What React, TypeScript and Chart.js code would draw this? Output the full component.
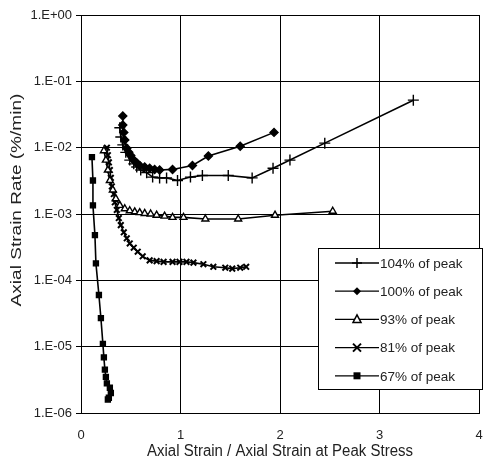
import React, { useEffect, useRef } from 'react';
import { Chart, registerables } from 'chart.js';
Chart.register(...registerables);

const seriesLabels = ['104% of peak', '100% of peak', '93% of peak', '81% of peak', '67% of peak'];
const pointStyles = ['cross', 'rectRot', 'triangle', 'crossRot', 'rect'];

const x104 = [0.39, 0.4, 0.42, 0.45, 0.49, 0.53, 0.56, 0.6, 0.66, 0.72, 0.79, 0.86, 0.97, 1.1, 1.22, 1.48, 1.72, 1.93, 2.1, 2.45, 3.34];
const y104 = [2.0e-2, 1.45e-2, 1.1e-2, 8.5e-3, 6.5e-3, 5.7e-3, 5.1e-3, 4.6e-3, 4.2e-3, 3.6e-3, 3.5e-3, 3.5e-3, 3.2e-3, 3.6e-3, 3.8e-3, 3.8e-3, 3.5e-3, 4.9e-3, 6.5e-3, 1.17e-2, 5.2e-2];

const x100 = [0.42, 0.42, 0.43, 0.44, 0.46, 0.48, 0.5, 0.53, 0.56, 0.59, 0.64, 0.69, 0.74, 0.79, 0.92, 1.12, 1.28, 1.6, 1.94];
const y100 = [3.0e-2, 2.2e-2, 1.7e-2, 1.3e-2, 9.8e-3, 8.5e-3, 7.6e-3, 6.5e-3, 5.9e-3, 5.4e-3, 5.1e-3, 4.9e-3, 4.7e-3, 4.6e-3, 4.7e-3, 5.4e-3, 7.5e-3, 1.05e-2, 1.7e-2];

const x93 = [0.23, 0.25, 0.27, 0.29, 0.32, 0.35, 0.39, 0.44, 0.49, 0.54, 0.59, 0.64, 0.7, 0.76, 0.84, 0.92, 1.03, 1.25, 1.58, 1.95, 2.53];
const y93 = [9.0e-3, 6.5e-3, 4.6e-3, 3.2e-3, 2.3e-3, 1.7e-3, 1.35e-3, 1.2e-3, 1.12e-3, 1.08e-3, 1.05e-3, 1.02e-3, 1.0e-3, 9.6e-4, 9.3e-4, 8.9e-4, 8.9e-4, 8.4e-4, 8.4e-4, 9.6e-4, 1.1e-3];

const x81 = [0.26, 0.27, 0.28, 0.29, 0.3, 0.31, 0.33, 0.34, 0.36, 0.38, 0.4, 0.43, 0.46, 0.49, 0.53, 0.57, 0.62, 0.69, 0.76, 0.83, 0.92, 0.99, 1.06, 1.13, 1.23, 1.33, 1.45, 1.52, 1.6, 1.66];
const y81 = [1.0e-2, 7.7e-3, 6.0e-3, 4.6e-3, 3.5e-3, 2.6e-3, 2.0e-3, 1.5e-3, 1.15e-3, 8.7e-4, 6.8e-4, 5.3e-4, 4.3e-4, 3.6e-4, 3.1e-4, 2.7e-4, 2.3e-4, 2.0e-4, 1.95e-4, 1.9e-4, 1.9e-4, 1.9e-4, 1.9e-4, 1.85e-4, 1.75e-4, 1.6e-4, 1.55e-4, 1.5e-4, 1.55e-4, 1.6e-4];

const x67 = [0.11, 0.12, 0.12, 0.14, 0.15, 0.18, 0.2, 0.22, 0.23, 0.24, 0.25, 0.26, 0.29, 0.3, 0.28, 0.27];
const y67 = [7.2e-3, 3.2e-3, 1.35e-3, 4.8e-4, 1.8e-4, 6e-5, 2.7e-5, 1.1e-5, 6.9e-6, 4.5e-6, 3.5e-6, 2.8e-6, 2.4e-6, 2.0e-6, 1.7e-6, 1.6e-6];

const yTickValues = [1, 1e-1, 1e-2, 1e-3, 1e-4, 1e-5, 1e-6];
const xTitle = 'Axial Strain / Axial Strain at Peak Stress';
const yTitle = 'Axial Strain Rate (%/min)';

const FONT = "'Liberation Sans', Arial, sans-serif";

function fmt(v: number) {
  const e = Math.round(Math.log10(v));
  const a = Math.abs(e);
  return '1.E' + (e >= 0 ? '+' : '-') + (a < 10 ? '0' + a : '' + a);
}

function drawMarker(ctx: CanvasRenderingContext2D, style: string, x: number, y: number) {
  ctx.save();
  ctx.strokeStyle = '#000';
  ctx.fillStyle = '#000';
  ctx.lineWidth = 1.5;
  ctx.beginPath();
  if (style === 'cross') {
    ctx.moveTo(x - 5, y); ctx.lineTo(x + 5, y);
    ctx.moveTo(x, y - 5); ctx.lineTo(x, y + 5);
    ctx.stroke();
  } else if (style === 'rectRot') {
    ctx.moveTo(x, y - 4); ctx.lineTo(x + 4, y); ctx.lineTo(x, y + 4); ctx.lineTo(x - 4, y); ctx.closePath();
    ctx.fill();
  } else if (style === 'triangle') {
    ctx.fillStyle = '#fff';
    ctx.moveTo(x, y - 4.5); ctx.lineTo(x + 4, y + 3); ctx.lineTo(x - 4, y + 3); ctx.closePath();
    ctx.fill(); ctx.stroke();
  } else if (style === 'crossRot') {
    ctx.lineWidth = 2;
    ctx.moveTo(x - 4, y - 4); ctx.lineTo(x + 4, y + 4);
    ctx.moveTo(x + 4, y - 4); ctx.lineTo(x - 4, y + 4);
    ctx.stroke();
  } else {
    ctx.rect(x - 3.5, y - 3.5, 7, 7);
    ctx.fill();
  }
  ctx.restore();
}

const overlayPlugin = {
  id: 'overlay',
  afterDraw(chart: any) {
    const ctx = chart.ctx as CanvasRenderingContext2D;
    const area = chart.chartArea;
    ctx.save();
    ctx.fillStyle = '#222';
    ctx.font = '15px ' + FONT;
    ctx.textAlign = 'center';
    ctx.textBaseline = 'middle';
    ctx.save();
    ctx.translate((area.left + area.right) / 2, 451);
    ctx.scale(1, 1.15);
    ctx.fillText(xTitle, 0, 0);
    ctx.restore();
    ctx.save();
    ctx.translate(17, 200);
    ctx.rotate(-Math.PI / 2);
    ctx.scale(1.27, 1);
    ctx.fillText(yTitle, 0, 0);
    ctx.restore();

    // legend box
    const left = 318, top = 248, w = 165, h = 142;
    ctx.fillStyle = '#fff';
    ctx.fillRect(left, top, w, h);
    ctx.strokeStyle = '#000';
    ctx.lineWidth = 1;
    ctx.strokeRect(left + 0.5, top + 0.5, w - 1, h - 1);
    ctx.font = '13.5px ' + FONT;
    ctx.textBaseline = 'middle';
    ctx.textAlign = 'left';
    seriesLabels.forEach((lab, i) => {
      const y = 263 + i * 28.2;
      ctx.strokeStyle = '#000';
      ctx.lineWidth = 1.3;
      ctx.beginPath();
      ctx.moveTo(335, y); ctx.lineTo(379, y);
      ctx.stroke();
      drawMarker(ctx, pointStyles[i], 357, y);
      ctx.fillStyle = '#222';
      ctx.fillText(lab, 380, y + 1);
    });
    ctx.restore();
  },
};

function mk(xs: number[], ys: number[]) {
  return xs.map((x, i) => ({ x, y: ys[i] }));
}

export default function App() {
  const ref = useRef<HTMLCanvasElement>(null);
  useEffect(() => {
    document.body.style.margin = '0';
    const xsAll = [x104, x100, x93, x81, x67];
    const ysAll = [y104, y100, y93, y81, y67];
    const datasets = seriesLabels.map((lab, i) => {
      const st = pointStyles[i];
      return {
        label: lab,
        data: mk(xsAll[i], ysAll[i]),
        borderColor: '#000',
        borderWidth: 1.6,
        backgroundColor: st === 'triangle' ? '#fff' : '#000',
        pointBorderColor: '#000',
        pointBackgroundColor: st === 'triangle' ? '#fff' : '#000',
        pointStyle: st,
        pointRadius: st === 'cross' ? 5.5 : st === 'rect' ? 3.5 : 4,
        pointBorderWidth: st === 'crossRot' ? 2 : 1.4,
        tension: 0,
        showLine: true,
        fill: false,
      };
    });
    const chart = new Chart(ref.current!, {
      type: 'line',
      data: { datasets: datasets as any },
      plugins: [overlayPlugin],
      options: {
        animation: false,
        responsive: false,
        layout: { autoPadding: false, padding: { left: 0, top: 15, right: 5, bottom: 0 } },
        plugins: { legend: { display: false }, tooltip: { enabled: false } },
        scales: {
          x: {
            type: 'linear',
            min: 0,
            max: 4,
            ticks: { stepSize: 1, color: '#222', font: { family: FONT, size: 13 }, padding: 15, maxRotation: 0 },
            grid: { color: '#000', lineWidth: 1, drawTicks: false },
            border: { color: '#000', width: 1 },
            title: { display: false },
            afterFit: (s: any) => { s.height = 49; s.paddingRight = 0; s.paddingLeft = 0; },
          },
          y: {
            type: 'logarithmic',
            min: 1e-6,
            max: 1,
            afterBuildTicks: (s: any) => { s.ticks = yTickValues.map((v) => ({ value: v })); },
            ticks: { color: '#222', font: { family: FONT, size: 13 }, padding: 4, callback: (v: any) => fmt(Number(v)) },
            grid: { color: '#000', lineWidth: 1, drawTicks: true, tickLength: 5 },
            border: { color: '#000', width: 1 },
            title: { display: false },
            afterFit: (s: any) => { s.width = 81; s.paddingTop = 0; s.paddingBottom = 0; },
          },
        },
      } as any,
    });
    return () => chart.destroy();
  }, []);
  return <canvas ref={ref} width={484} height={462} style={{ display: 'block' }} />;
}
